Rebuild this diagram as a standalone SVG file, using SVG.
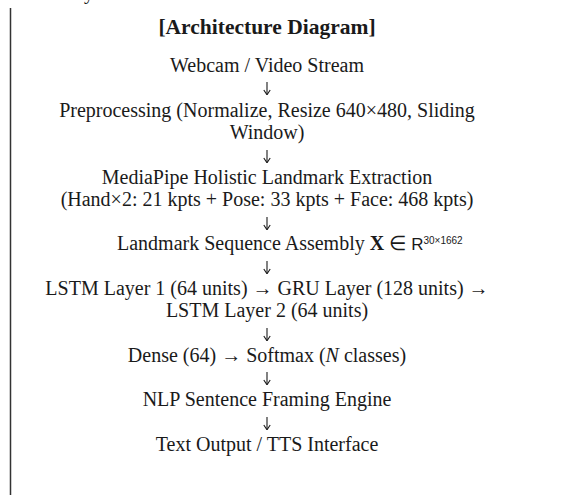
<svg xmlns="http://www.w3.org/2000/svg" width="573" height="495" viewBox="0 0 573 495">
<style>
.t{font-family:"Liberation Serif","Times New Roman",serif;font-size:20px;fill:#1a1a1a;text-anchor:middle}
.title{font-family:"Liberation Serif","Times New Roman",serif;font-size:21.5px;font-weight:bold;fill:#1a1a1a;text-anchor:middle}
.sans{font-family:"Liberation Sans","DejaVu Sans",sans-serif}
.c{stroke:#1a1a1a;stroke-width:1.1;fill:none}
</style>
<defs>
<marker id="ah" viewBox="0 0 8 8" refX="7.5" refY="4" markerWidth="8" markerHeight="8" markerUnits="userSpaceOnUse" orient="auto">
<path d="M3,0.8 L7.8,4 L3,7.2" fill="none" stroke="#1a1a1a" stroke-width="1.1"/>
</marker>
</defs>
<rect width="573" height="495" fill="#ffffff"/>
<line x1="10.5" y1="8" x2="10.5" y2="495" stroke="#333333" stroke-width="1.5"/>
<text x="84" y="-1" class="t" style="text-anchor:start">y</text>
<g id="title"><text x="267" y="34" class="title">[Architecture Diagram]</text></g>
<g id="n1"><text x="267" y="72" class="t">Webcam / Video Stream</text></g>
<g id="n2"><text x="267" y="117" class="t">Preprocessing (Normalize, Resize 640×480, Sliding</text><text x="267" y="139" class="t">Window)</text></g>
<g id="n3"><text x="267" y="184" class="t">MediaPipe Holistic Landmark Extraction</text><text x="267" y="206" class="t">(Hand×2: 21 kpts + Pose: 33 kpts + Face: 468 kpts)</text></g>
<g id="n4"><text x="117" y="250" class="t" style="text-anchor:start">Landmark Sequence Assembly <tspan font-weight="bold">X</tspan> ∈ <tspan class="sans" font-size="17">R</tspan><tspan class="sans" font-size="10" dy="-6">30×1662</tspan></text></g>
<g id="n5"><text x="267" y="295" class="t">LSTM Layer 1 (64 units) → GRU Layer (128 units) →</text><text x="267" y="317" class="t">LSTM Layer 2 (64 units)</text></g>
<g id="n6"><text x="267" y="362" class="t">Dense (64) → Softmax (<tspan font-style="italic">N</tspan> classes)</text></g>
<g id="n7"><text x="267" y="406" class="t">NLP Sentence Framing Engine</text></g>
<g id="n8"><text x="267" y="451" class="t">Text Output / TTS Interface</text></g>
<g id="connectors">
<line class="c" x1="267" y1="82" x2="267" y2="94.5" marker-end="url(#ah)"/>
<line class="c" x1="267" y1="150" x2="267" y2="162.5" marker-end="url(#ah)"/>
<line class="c" x1="267" y1="217" x2="267" y2="229.5" marker-end="url(#ah)"/>
<line class="c" x1="267" y1="261" x2="267" y2="273.5" marker-end="url(#ah)"/>
<line class="c" x1="267" y1="328" x2="267" y2="340.5" marker-end="url(#ah)"/>
<line class="c" x1="267" y1="372" x2="267" y2="384.5" marker-end="url(#ah)"/>
<line class="c" x1="267" y1="417" x2="267" y2="429.5" marker-end="url(#ah)"/>
</g>
</svg>
